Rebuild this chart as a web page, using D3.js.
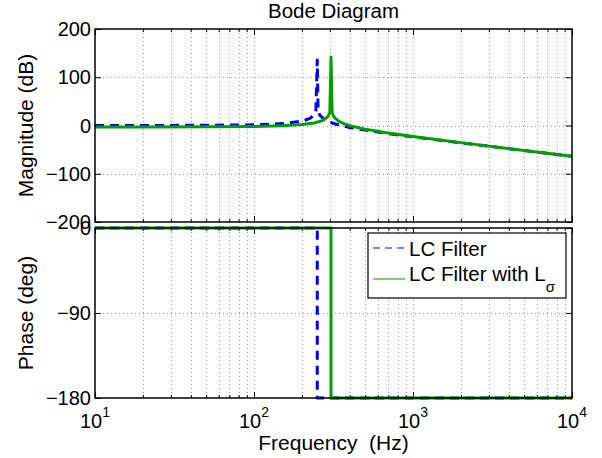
<!DOCTYPE html>
<html>
<head>
<meta charset="utf-8">
<script src="https://cdn.jsdelivr.net/npm/d3@7"></script>
<style>
  body { margin: 0; background: #fff; }
  text { font-family: "Liberation Sans", Arial, Helvetica, sans-serif; fill: #000; }
</style>
</head>
<body>
<svg id="chart" width="602" height="458"></svg>
<script>
// values
const freqLC = [10, 20, 50, 100, 150, 200, 225, 240, 245, 250, 253, 260, 280, 314, 350, 400, 500, 700, 1000, 2000, 5000, 10000];
const magLC = [0, 0.1, 0.4, 1.5, 3.9, 9, 14.7, 23, 30, 136, 30, 21, 11.5, 4.6, 0.2, -4, -9.6, -16.8, -23.6, -36, -52, -64];

const freqLs = [10, 20, 50, 100, 150, 200, 240, 270, 290, 300, 305, 310, 320, 340, 370, 420, 500, 700, 1000, 2000, 5000, 10000];
const magLs = [-3, -3, -2.8, -2, -0.6, 1.9, 5.4, 10.3, 17.4, 26.6, 142, 26.6, 17, 9.3, 3.5, -2, -7.5, -15.6, -22.8, -35.5, -51.6, -63.6];

const phaseFreqLC = [10, 250, 250, 10000];
const phaseLC = [0, 0, -180, -180];
const phaseFreqLs = [10, 305, 305, 10000];
const phaseLs = [0, 0, -180, -180];

const magTicks = [-200, -100, 0, 100, 200];
const magTickLabels = ["\u2212200", "\u2212100", "0", "100", "200"];
const phaseTicks = [-180, -90, 0];
const phaseTickLabels = ["\u2212180", "\u221290", "0"];
const freqTicks = [10, 100, 1000, 10000];
const freqTickExp = ["1", "2", "3", "4"];
const seriesNames = ["LC Filter", "LC Filter with L"];

const blue = "#0000ff";
const green = "#00a000";

const svg = d3.select("#chart");
const left = 95, right = 572;
const magTop = 29, magBottom = 222, phTop = 228, phBottom = 398;

const x = d3.scaleLog().domain([10, 10000]).range([left, right]);
const yMag = d3.scaleLinear().domain([-200, 200]).range([magBottom, magTop]);
const yPh = d3.scaleLinear().domain([-180, 0]).range([phBottom, phTop]);

// minor log positions 2..9 per decade
const minorTicks = [];
[10, 100, 1000].forEach((d) => {
  for (let k = 2; k <= 9; k++) minorTicks.push(d * k);
});

function drawPanel(y, top, bottom, ticks, labels, id) {
  const g = svg.append("g");
  g.append("rect")
    .attr("x", left).attr("y", top)
    .attr("width", right - left).attr("height", bottom - top)
    .attr("fill", "#fff");

  // dotted grid
  const grid = g.append("g")
    .attr("stroke", "#999")
    .attr("stroke-width", 1)
    .attr("stroke-dasharray", "1,3");
  grid.selectAll("line.v")
    .data(minorTicks.concat([100, 1000]))
    .enter().append("line")
    .attr("x1", (d) => Math.round(x(d)) + 0.5).attr("x2", (d) => Math.round(x(d)) + 0.5)
    .attr("y1", top).attr("y2", bottom);
  grid.selectAll("line.h")
    .data(ticks.slice(1, -1))
    .enter().append("line")
    .attr("x1", left).attr("x2", right)
    .attr("y1", (d) => Math.round(y(d)) + 0.5).attr("y2", (d) => Math.round(y(d)) + 0.5);

  // inward ticks on all four sides
  const axes = [
    [d3.axisBottom(x).tickValues(freqTicks).tickSizeInner(-6), `translate(0,${bottom})`],
    [d3.axisBottom(x).tickValues(minorTicks).tickSizeInner(-3), `translate(0,${bottom})`],
    [d3.axisTop(x).tickValues(freqTicks).tickSizeInner(-6), `translate(0,${top})`],
    [d3.axisTop(x).tickValues(minorTicks).tickSizeInner(-3), `translate(0,${top})`],
    [d3.axisLeft(y).tickValues(ticks).tickSizeInner(-6), `translate(${left},0)`],
    [d3.axisRight(y).tickValues(ticks).tickSizeInner(-6), `translate(${right},0)`],
  ];
  axes.forEach(([ax, tr]) => {
    const a = g.append("g").attr("transform", tr)
      .call(ax.tickSizeOuter(0).tickFormat(""));
    a.select(".domain").remove();
    a.selectAll("line").attr("stroke", "#000");
  });

  // tick labels
  g.selectAll("text.yl")
    .data(ticks)
    .enter().append("text")
    .attr("x", 91)
    .attr("y", (d) => y(d))
    .attr("dy", "0.36em")
    .attr("text-anchor", "end")
    .attr("font-size", 20)
    .text((d, i) => labels[i]);

  g.append("clipPath").attr("id", id)
    .append("rect")
    .attr("x", left).attr("y", top - 2)
    .attr("width", right - left).attr("height", bottom - top + 4);
  return g;
}

const magPanel = drawPanel(yMag, magTop, magBottom, magTicks, magTickLabels, "clipMag");
const phPanel = drawPanel(yPh, phTop, phBottom, phaseTicks, phaseTickLabels, "clipPh");

function drawLine(g, xs, ys, y, color, dash, clip) {
  const line = d3.line().x((d) => x(d[0])).y((d) => y(d[1]));
  g.append("path")
    .datum(xs.map((f, i) => [f, ys[i]]))
    .attr("clip-path", `url(#${clip})`)
    .attr("d", line)
    .attr("fill", "none")
    .attr("stroke", color)
    .attr("stroke-width", 3)
    .attr("stroke-dasharray", dash)
    .attr("stroke-linejoin", "round");
}

drawLine(magPanel, freqLC, magLC, yMag, blue, "9,6", "clipMag");
drawLine(magPanel, freqLs, magLs, yMag, green, null, "clipMag");
drawLine(phPanel, phaseFreqLC, phaseLC, yPh, blue, "9,6", "clipPh");
drawLine(phPanel, phaseFreqLs, phaseLs, yPh, green, null, "clipPh");

// axes boxes
[[magTop, magBottom], [phTop, phBottom]].forEach(([t, b]) => {
  svg.append("rect")
    .attr("x", left).attr("y", t)
    .attr("width", right - left).attr("height", b - t)
    .attr("fill", "none").attr("stroke", "#000").attr("stroke-width", 1.5);
});

// x tick labels (10^n)
freqTicks.forEach((f, i) => {
  const t = svg.append("text")
    .attr("x", x(f)).attr("y", 428)
    .attr("text-anchor", "middle")
    .attr("font-size", 20);
  t.append("tspan").text("10");
  t.append("tspan").attr("dy", -11).attr("font-size", 14).text(freqTickExp[i]);
});

// title and axis labels
svg.append("text")
  .attr("x", (left + right) / 2).attr("y", 18)
  .attr("text-anchor", "middle").attr("font-size", 20.5)
  .text("Bode Diagram");

svg.append("text")
  .attr("x", (left + right) / 2).attr("y", 450)
  .attr("text-anchor", "middle").attr("font-size", 21)
  .attr("xml:space", "preserve")
  .text("Frequency  (Hz)");

svg.append("text")
  .attr("transform", `translate(33,${(magTop + magBottom) / 2}) rotate(-90)`)
  .attr("text-anchor", "middle").attr("font-size", 21)
  .text("Magnitude (dB)");

svg.append("text")
  .attr("transform", `translate(33,${(phTop + phBottom) / 2}) rotate(-90)`)
  .attr("text-anchor", "middle").attr("font-size", 21)
  .text("Phase (deg)");

// legend
const lg = svg.append("g");
lg.append("rect")
  .attr("x", 368).attr("y", 233).attr("width", 198).attr("height", 65)
  .attr("fill", "#fff").attr("stroke", "#000").attr("stroke-width", 1.2);
const legendRows = [
  { color: "#5555ff", dash: "7,5", y: 248, base: 256 },
  { color: "#55bb55", dash: null, y: 279, base: 281 },
];
legendRows.forEach((r, i) => {
  lg.append("line")
    .attr("x1", 373).attr("x2", 405).attr("y1", r.y).attr("y2", r.y)
    .attr("stroke", r.color).attr("stroke-width", 1.5)
    .attr("stroke-dasharray", r.dash);
  const t = lg.append("text")
    .attr("x", 409).attr("y", r.base).attr("font-size", 20.5)
    .text(seriesNames[i]);
  if (i === 1) t.append("tspan").attr("dy", 11).attr("font-size", 15).text("\u03c3");
});
</script>
</body>
</html>
